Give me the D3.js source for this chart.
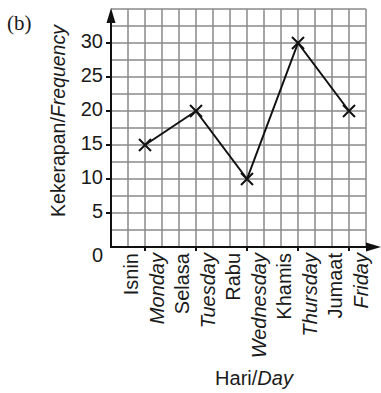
<!DOCTYPE html>
<html>
<head>
<meta charset="utf-8">
<script src="https://cdn.jsdelivr.net/npm/d3@7"></script>
<style>
  body { margin: 0; background: #fff; }
  svg text { fill: #1a1a1a; }
</style>
</head>
<body>
<script>
// data
const daysMalay = ["Isnin", "Selasa", "Rabu", "Khamis", "Jumaat"];
const daysEnglish = ["Monday", "Tuesday", "Wednesday", "Thursday", "Friday"];
const frequency = [15, 20, 10, 30, 20];
const yTicks = [0, 5, 10, 15, 20, 25, 30];

const width = 381, height = 393;
const sans = "'Liberation Sans', Arial, sans-serif";

const svg = d3.select("body").append("svg")
  .attr("width", width)
  .attr("height", height)
  .attr("font-family", sans);

// grid scales: 15 columns x 14 rows, 1 row = 2.5 units
const gx = d3.scaleLinear().domain([0, 15]).range([111, 366]);
const y = d3.scaleLinear().domain([0, 35]).range([247, 9]);
const x = d3.scalePoint().domain(daysMalay).range([gx(2), gx(14)]);

// grid
const grid = svg.append("g")
  .attr("stroke", "#8a8a8a")
  .attr("stroke-width", 1.5);

grid.selectAll("line.v")
  .data(d3.range(1, 16))
  .join("line")
  .attr("class", "v")
  .attr("x1", d => gx(d)).attr("x2", d => gx(d))
  .attr("y1", y(0)).attr("y2", y(35));

grid.selectAll("line.h")
  .data(d3.range(2.5, 35.1, 2.5))
  .join("line")
  .attr("class", "h")
  .attr("x1", gx(0)).attr("x2", gx(15))
  .attr("y1", d => y(d)).attr("y2", d => y(d));

// axes
const axes = svg.append("g").attr("stroke", "#111").attr("stroke-width", 2);
axes.append("line")
  .attr("x1", gx(0)).attr("x2", gx(0))
  .attr("y1", y(0) + 1).attr("y2", 20);
axes.append("line")
  .attr("x1", gx(0) - 1).attr("x2", 370)
  .attr("y1", y(0)).attr("y2", y(0));

// arrow heads
svg.append("path")
  .attr("d", `M${gx(0)},8 L${gx(0) - 4.5},23 L${gx(0) + 4.5},23 Z`)
  .attr("fill", "#111");
svg.append("path")
  .attr("d", `M381,${y(0)} L366,${y(0) - 4.5} L366,${y(0) + 4.5} Z`)
  .attr("fill", "#111");

// y ticks
axes.selectAll("line.yt")
  .data(yTicks.filter(d => d > 0))
  .join("line")
  .attr("class", "yt")
  .attr("x1", gx(0) - 5).attr("x2", gx(0))
  .attr("y1", d => y(d)).attr("y2", d => y(d));

svg.selectAll("text.ylab")
  .data(yTicks)
  .join("text")
  .attr("class", "ylab")
  .attr("x", 103)
  .attr("y", d => d === 0 ? 262 : y(d) + 5)
  .attr("text-anchor", "end")
  .attr("font-size", 20)
  .text(d => d);

// x ticks
axes.selectAll("line.xt")
  .data(daysMalay)
  .join("line")
  .attr("class", "xt")
  .attr("x1", d => x(d)).attr("x2", d => x(d))
  .attr("y1", y(0)).attr("y2", y(0) + 4);

svg.selectAll("text.malay")
  .data(daysMalay)
  .join("text")
  .attr("class", "malay")
  .attr("transform", d => `translate(${x(d) - 7},253) rotate(-90)`)
  .attr("text-anchor", "end")
  .attr("font-size", 20)
  .text(d => d);

svg.selectAll("text.english")
  .data(daysEnglish)
  .join("text")
  .attr("class", "english")
  .attr("transform", (d, i) => `translate(${x(daysMalay[i]) + 19},253) rotate(-90)`)
  .attr("text-anchor", "end")
  .attr("font-size", 20)
  .attr("font-style", "italic")
  .text(d => d);

// axis titles
const xt = svg.append("text")
  .attr("x", 254).attr("y", 385)
  .attr("text-anchor", "middle")
  .attr("font-size", 20);
xt.append("tspan").text("Hari/");
xt.append("tspan").attr("font-style", "italic").text("Day");

const yt = svg.append("text")
  .attr("transform", "translate(65,121) rotate(-90)")
  .attr("text-anchor", "middle")
  .attr("font-size", 19.5);
yt.append("tspan").text("Kekerapan/");
yt.append("tspan").attr("font-style", "italic").text("Frequency");

svg.append("text")
  .attr("x", 7).attr("y", 30)
  .attr("font-family", "'Liberation Serif', 'Times New Roman', serif")
  .attr("font-size", 21)
  .text("(b)");

// line
const line = d3.line()
  .x((d, i) => x(daysMalay[i]))
  .y(d => y(d));

svg.append("path")
  .datum(frequency)
  .attr("d", line)
  .attr("fill", "none")
  .attr("stroke", "#111")
  .attr("stroke-width", 2);

// cross markers
const s = 6;
svg.append("g")
  .selectAll("path")
  .data(frequency)
  .join("path")
  .attr("d", (d, i) => {
    const cx = x(daysMalay[i]), cy = y(d);
    return `M${cx - s},${cy - s}L${cx + s},${cy + s}M${cx - s},${cy + s}L${cx + s},${cy - s}`;
  })
  .attr("stroke", "#111")
  .attr("stroke-width", 2)
  .attr("fill", "none");
</script>
</body>
</html>
